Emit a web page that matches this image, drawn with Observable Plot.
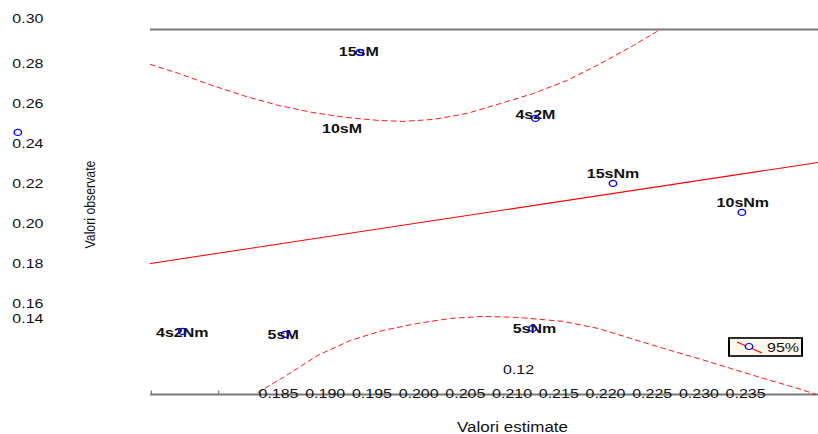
<!DOCTYPE html>
<html>
<head>
<meta charset="utf-8">
<script src="https://cdn.jsdelivr.net/npm/d3@7"></script>
<script src="https://cdn.jsdelivr.net/npm/@observablehq/plot@0.6"></script>
<style>
  html, body { margin: 0; padding: 0; background: #fff; }
  #wrap { position: relative; width: 818px; height: 434px; overflow: hidden; background: #fff; }
</style>
</head>
<body>
<div id="wrap"></div>
<script>
// ---- data ----
const names   = ["15sM", "10sM", "4s2M", "15sNm", "10sNm", "4s2Nm", "5sM", "5sNm"];
const estX    = [0.1937, 0.1571, 0.2125, 0.2208, 0.2346, 0.1747, 0.1857, 0.2122];
const obsY    = [0.2855, 0.2455, 0.2525, 0.2200, 0.2055, 0.1460, 0.1445, 0.1475];
const labelX  = [0.1936, 0.1918, 0.2125, 0.2208, 0.2347, 0.1747, 0.1855, 0.2124];
const labelY  = [0.2860, 0.2475, 0.2545, 0.2250, 0.2105, 0.1455, 0.1445, 0.1475];

const fitX = [0.1713, 0.2428];
const fitY = [0.1800, 0.2305];

const upperX = [0.1713, 0.1743, 0.1779, 0.1815, 0.1850, 0.1886, 0.1922, 0.1957, 0.1983, 0.2016, 0.2052, 0.2088, 0.2123, 0.2159, 0.2195, 0.2230, 0.2257];
const upperY = [0.2795, 0.2750, 0.2690, 0.2635, 0.2590, 0.2555, 0.2530, 0.2515, 0.2510, 0.2520, 0.2550, 0.2600, 0.2650, 0.2715, 0.2800, 0.2890, 0.2965];

const lowerX = [0.1828, 0.1855, 0.1892, 0.1927, 0.1962, 0.1999, 0.2034, 0.2069, 0.2106, 0.2155, 0.2192, 0.2227, 0.2262, 0.2299, 0.2334, 0.2369, 0.2406, 0.2425];
const lowerY = [0.1155, 0.1230, 0.1340, 0.1415, 0.1465, 0.1500, 0.1525, 0.1535, 0.1530, 0.1510, 0.1475, 0.1425, 0.1375, 0.1325, 0.1275, 0.1225, 0.1175, 0.1145];

const xTicks      = [0.185, 0.190, 0.195, 0.200, 0.205, 0.210, 0.215, 0.220, 0.225, 0.230, 0.235];
const xTickLabels = ["0.185", "0.190", "0.195", "0.200", "0.205", "0.210", "0.215", "0.220", "0.225", "0.230", "0.235"];
const yTickPos    = [0.3025, 0.28, 0.26, 0.24, 0.22, 0.20, 0.18, 0.16, 0.1525];
const yTickLabels = ["0.30", "0.28", "0.26", "0.24", "0.22", "0.20", "0.18", "0.16", "0.14"];
const strayTick   = {x: 0.2107, y: 0.127, label: "0.12"};
const bottomTicks = [0.1714, 0.1786, 0.1830];

const xDomain = [0.1713, 0.2428];
const yDomain = [0.1145, 0.2970];

const xTitle = "Valori estimate";
const yTitle = "Valori observate";
const legendLabel = "95%";

// ---- build ----
const FONT = "'Liberation Sans', Arial, Helvetica, sans-serif";
const W = 818, H = 529;          // internal drawing size
const k = 434 / H;               // vertical squeeze seen in the reference

const pts = names.map((n, i) => ({name: n, ex: estX[i], ey: obsY[i], lx: labelX[i], ly: labelY[i]}));
const fit = fitX.map((x, i) => ({x, y: fitY[i]}));
const upper = upperX.map((x, i) => ({x, y: upperY[i]}));
const lower = lowerX.map((x, i) => ({x, y: lowerY[i]}));
const xt = xTicks.map((v, i) => ({v, label: xTickLabels[i]}));
const yt = yTickPos.map((v, i) => ({v, label: yTickLabels[i]}));

const chart = Plot.plot({
  width: W,
  height: H,
  marginTop: 29 / k,
  marginBottom: H - 394 / k,
  marginLeft: 150,
  marginRight: 0,
  x: {domain: xDomain, axis: null},
  y: {domain: yDomain, axis: null},
  style: {fontFamily: FONT, background: "white", overflow: "visible"},
  marks: [
    Plot.ruleY([yDomain[1]], {stroke: "#7a7a7a", strokeWidth: 2.4}),
    Plot.ruleY([yDomain[0]], {stroke: "#7a7a7a", strokeWidth: 2.4}),
    Plot.ruleX(bottomTicks, {x: d => d, y1: yDomain[0], y2: yDomain[0] + 0.0018, stroke: "#7a7a7a", strokeWidth: 1.2}),
    Plot.line(upper, {x: "x", y: "y", stroke: "#ff0000", strokeWidth: 1, strokeDasharray: "5,4"}),
    Plot.line(lower, {x: "x", y: "y", stroke: "#ff0000", strokeWidth: 1, strokeDasharray: "5,4"}),
    Plot.line(fit, {x: "x", y: "y", stroke: "#ff0000", strokeWidth: 1.3}),
    Plot.text(xt, {x: "v", text: "label", frameAnchor: "bottom", lineAnchor: "middle", dy: -1.2, fontSize: 16, fill: "#111"}),
    Plot.text(yt, {y: "v", text: "label", frameAnchor: "left", textAnchor: "end", dx: -107, fontSize: 16, fill: "#111"}),
    Plot.text([strayTick], {x: "x", y: "y", text: "label", fontSize: 16, fill: "#111"}),
    Plot.text(pts, {x: "lx", y: "ly", text: "name", fontSize: 16, fontWeight: "bold", fill: "#111"}),
    Plot.dot(pts, {x: "ex", y: "ey", r: 3.7, stroke: "#0000ff", fill: "none", strokeWidth: 1.4}),
    Plot.text([xTitle], {text: d => d, frameAnchor: "bottom", textAnchor: "middle", lineAnchor: "middle", dx: 28, dy: 33 / k, fontSize: 17, fill: "#111"}),
    Plot.text([yTitle], {text: d => d, frameAnchor: "left", textAnchor: "middle", lineAnchor: "middle", rotate: -90, dx: -60, dy: -9, fontSize: 15, fill: "#111"})
  ]
});

chart.setAttribute("viewBox", `0 0 ${W} ${H}`);
chart.setAttribute("preserveAspectRatio", "none");
chart.setAttribute("width", 818);
chart.setAttribute("height", 434);
chart.style.width = "818px";
chart.style.height = "434px";
chart.style.maxWidth = "none";

const wrap = document.getElementById("wrap");
wrap.appendChild(chart);

// legend box (drawn in the same squeezed space)
const ns = "http://www.w3.org/2000/svg";
const lg = document.createElementNS(ns, "svg");
lg.setAttribute("id", "legend");
lg.setAttribute("width", 75);
lg.setAttribute("height", 20);
lg.setAttribute("viewBox", `0 0 75 ${20 / k}`);
lg.setAttribute("preserveAspectRatio", "none");
lg.style.position = "absolute";
lg.style.left = "728px";
lg.style.top = "337px";
const lh = 20 / k;
lg.innerHTML = `
  <rect x="1" y="1.2" width="73" height="${lh - 2.4}" fill="#fdf8ee" stroke="#000" stroke-width="2"/>
  <line x1="9" y1="${5 / k}" x2="34" y2="${16 / k}" stroke="#ff0000" stroke-width="1.2"/>
  <circle cx="21" cy="${9.5 / k}" r="3.7" fill="#fdf8ee" stroke="#0000ff" stroke-width="1.4"/>
  <text x="39" y="${lh / 2}" dy="0.36em" font-family="${FONT.replace(/'/g, "")}" font-size="16" fill="#111">${legendLabel}</text>`;
wrap.appendChild(lg);
</script>
</body>
</html>
